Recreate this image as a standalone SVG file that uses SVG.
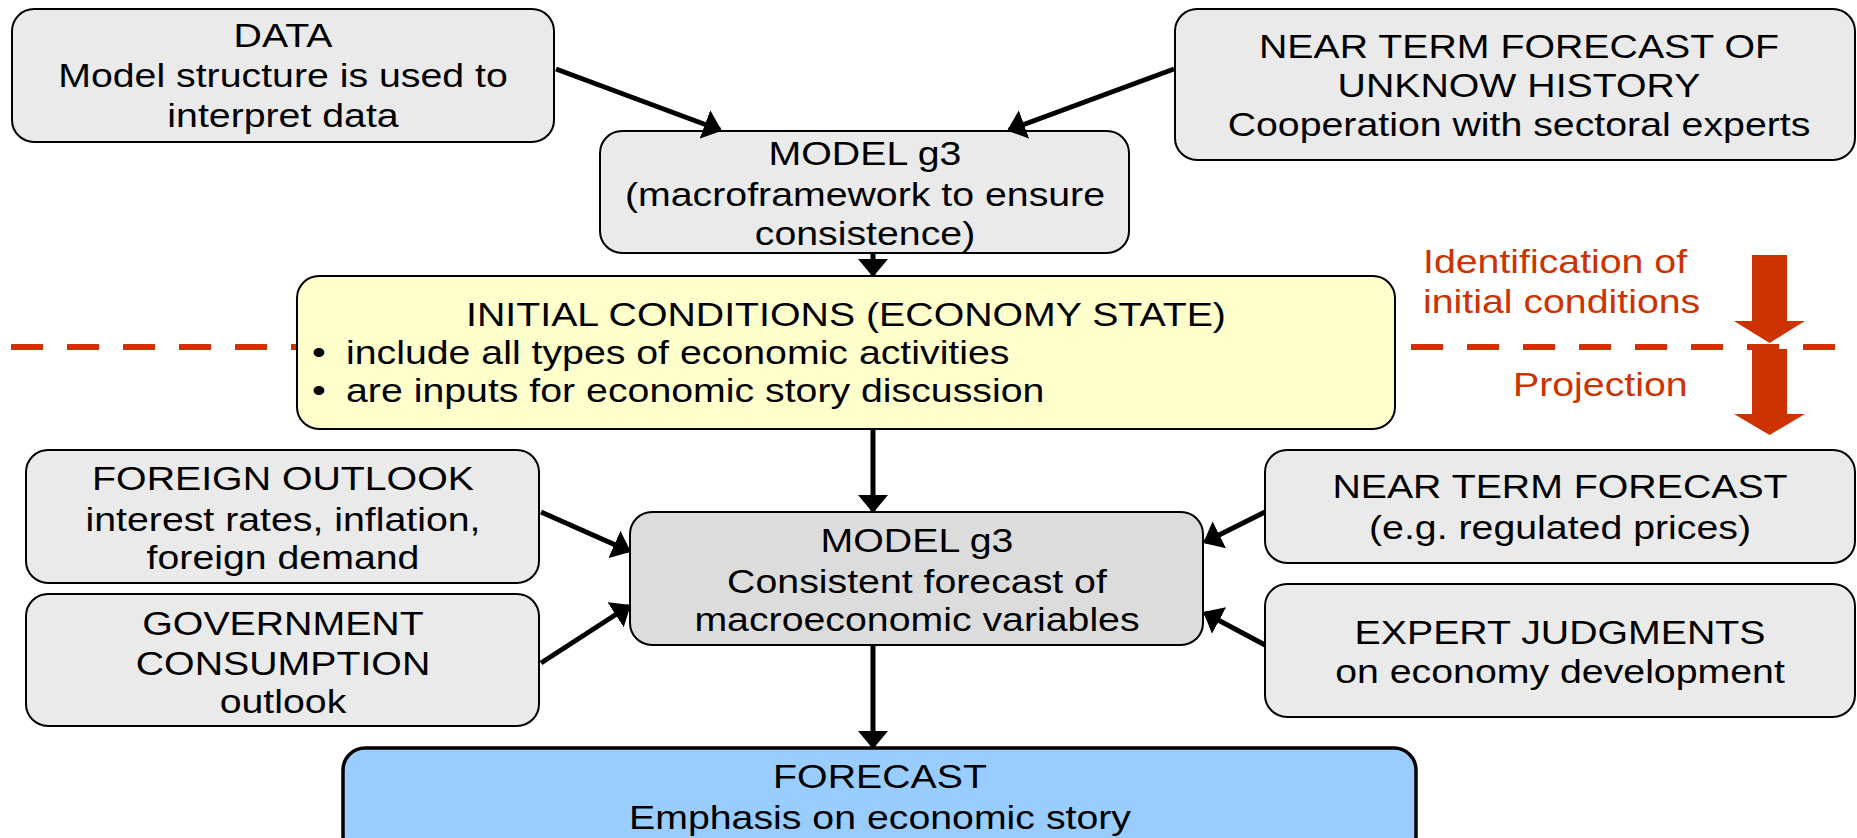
<svg xmlns="http://www.w3.org/2000/svg" width="1857" height="838" viewBox="0 0 1857 838">
<style>
.box{fill:#EAEAEA;stroke:#000;stroke-width:2}
.mid{fill:#DCDCDC;stroke:#000;stroke-width:2}
.init{fill:#FFFFCC;stroke:#000;stroke-width:2}
.fc{fill:#99CCFF;stroke:#000;stroke-width:3.5}
text{font-family:"Liberation Sans",Arial,sans-serif;font-size:33px;fill:#000}
.c{text-anchor:middle}
.red{fill:#CC3300}
.conn{stroke:#000;stroke-width:5;fill:none;marker-end:url(#ah)}
</style>
<defs>
<marker id="ah" viewBox="0 0 18 30" refX="16" refY="15" markerWidth="18" markerHeight="30" markerUnits="userSpaceOnUse" orient="auto">
<path d="M0,0 L18,15 L0,30 Z" fill="#000"/>
</marker>
</defs>
<rect width="1857" height="838" fill="#fff"/>

<g id="phase-arrows">
<path class="red" d="M1752,255 H1787 V321 H1805 L1769.5,343 L1734,321 H1752 Z"/>
<path class="red" d="M1752,349 H1787 V414 H1805 L1769.5,435 L1734,414 H1752 Z"/>
</g>
<g id="divider">
<line x1="11" y1="347" x2="1835" y2="347" stroke="#CC3300" stroke-width="6" stroke-dasharray="32 24"/>
</g>
<g id="phase-labels">
<text class="red" transform="translate(1423,273) scale(1.19,1)">Identification of</text>
<text class="red" transform="translate(1423,313) scale(1.19,1)">initial conditions</text>
<text class="red" transform="translate(1513,396) scale(1.19,1)">Projection</text>
</g>

<g id="data">
<rect class="box" x="12" y="9" width="542" height="133" rx="22"/>
<text class="c" transform="translate(283,47) scale(1.19,1)">DATA</text>
<text class="c" transform="translate(283,87) scale(1.19,1)">Model structure is used to</text>
<text class="c" transform="translate(283,127) scale(1.19,1)">interpret data</text>
</g>

<g id="model-top">
<rect class="box" x="600" y="131" width="529" height="122" rx="22"/>
<text class="c" transform="translate(865,165) scale(1.19,1)">MODEL g3</text>
<text class="c" transform="translate(865,206) scale(1.19,1)">(macroframework to ensure</text>
<text class="c" transform="translate(865,245) scale(1.19,1)">consistence)</text>
</g>

<g id="near-term-history">
<rect class="box" x="1175" y="9" width="680" height="151" rx="22"/>
<text class="c" transform="translate(1519,58) scale(1.19,1)">NEAR TERM FORECAST OF</text>
<text class="c" transform="translate(1519,97) scale(1.19,1)">UNKNOW HISTORY</text>
<text class="c" transform="translate(1519,136) scale(1.19,1)">Cooperation with sectoral experts</text>
</g>

<g id="initial-conditions">
<rect class="init" x="297" y="276" width="1098" height="153" rx="22"/>
<text class="c" transform="translate(846,326) scale(1.19,1)">INITIAL CONDITIONS (ECONOMY STATE)</text>
<text transform="translate(312,364) scale(1.19,1)">•</text>
<text transform="translate(346,364) scale(1.19,1)">include all types of economic activities</text>
<text transform="translate(312,402) scale(1.19,1)">•</text>
<text transform="translate(346,402) scale(1.19,1)">are inputs for economic story discussion</text>
</g>

<g id="foreign-outlook">
<rect class="box" x="26" y="450" width="513" height="133" rx="22"/>
<text class="c" transform="translate(283,490) scale(1.19,1)">FOREIGN OUTLOOK</text>
<text class="c" transform="translate(283,531) scale(1.19,1)">interest rates, inflation,</text>
<text class="c" transform="translate(283,569) scale(1.19,1)">foreign demand</text>
</g>

<g id="government">
<rect class="box" x="26" y="594" width="513" height="132" rx="22"/>
<text class="c" transform="translate(283,635) scale(1.19,1)">GOVERNMENT</text>
<text class="c" transform="translate(283,675) scale(1.19,1)">CONSUMPTION</text>
<text class="c" transform="translate(283,713) scale(1.19,1)">outlook</text>
</g>

<g id="model-mid">
<rect class="mid" x="630" y="512" width="573" height="133" rx="22"/>
<text class="c" transform="translate(917,552) scale(1.19,1)">MODEL g3</text>
<text class="c" transform="translate(917,593) scale(1.19,1)">Consistent forecast of</text>
<text class="c" transform="translate(917,631) scale(1.19,1)">macroeconomic variables</text>
</g>

<g id="near-term-forecast">
<rect class="box" x="1265" y="450" width="590" height="113" rx="22"/>
<text class="c" transform="translate(1560,498) scale(1.19,1)">NEAR TERM FORECAST</text>
<text class="c" transform="translate(1560,539) scale(1.19,1)">(e.g. regulated prices)</text>
</g>

<g id="expert">
<rect class="box" x="1265" y="584" width="590" height="133" rx="22"/>
<text class="c" transform="translate(1560,644) scale(1.19,1)">EXPERT JUDGMENTS</text>
<text class="c" transform="translate(1560,683) scale(1.19,1)">on economy development</text>
</g>

<g id="forecast">
<rect class="fc" x="343" y="748" width="1073" height="110" rx="22"/>
<text class="c" transform="translate(880,788) scale(1.19,1)">FORECAST</text>
<text class="c" transform="translate(880,829) scale(1.19,1)">Emphasis on economic story</text>
</g>

<g id="connectors">
<line class="conn" x1="556" y1="69" x2="720" y2="130"/>
<line class="conn" x1="1174" y1="69" x2="1009" y2="130"/>
<line class="conn" x1="873" y1="253" x2="873" y2="275"/>
<line class="conn" x1="873" y1="429" x2="873" y2="511"/>
<line class="conn" x1="541" y1="512" x2="629" y2="551"/>
<line class="conn" x1="541" y1="663" x2="629" y2="606"/>
<line class="conn" x1="1265" y1="512" x2="1205" y2="542"/>
<line class="conn" x1="1265" y1="645" x2="1205" y2="613"/>
<line class="conn" x1="873" y1="645" x2="873" y2="747"/>
</g>
</svg>
